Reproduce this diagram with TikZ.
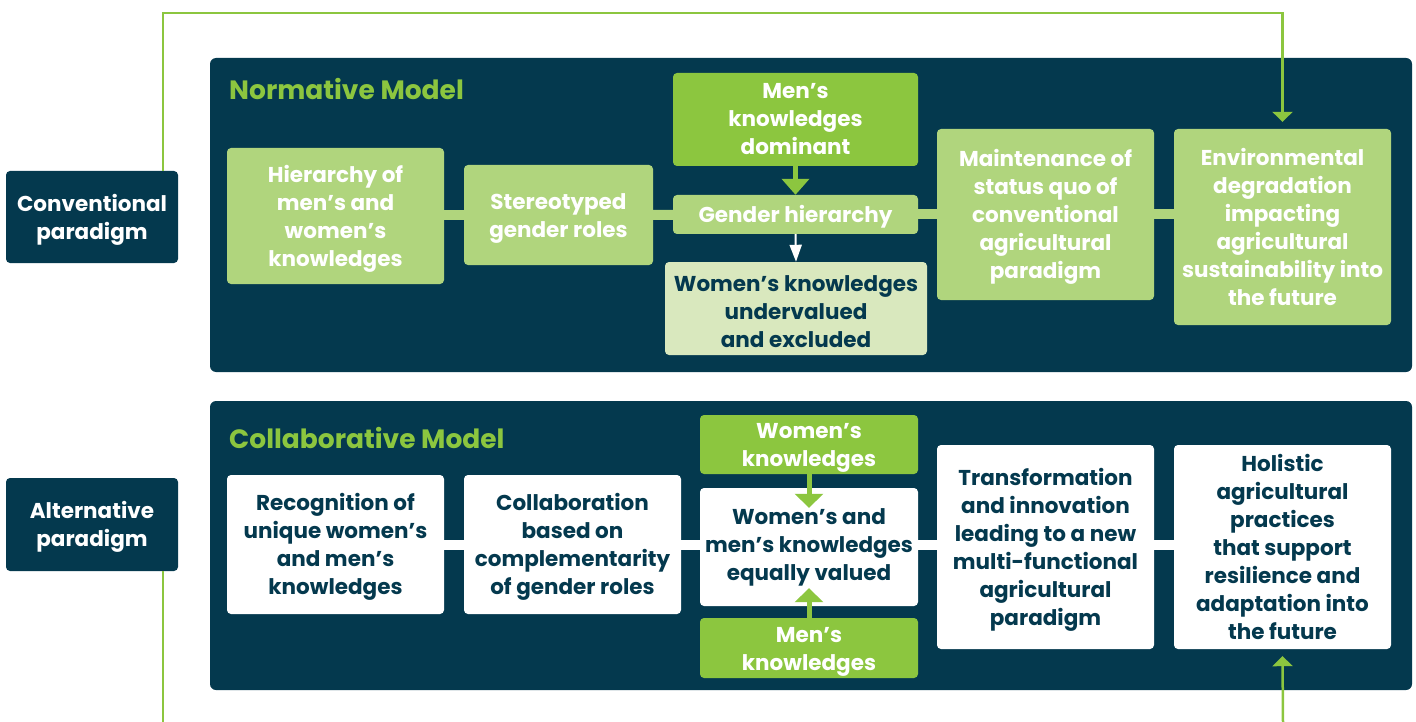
\documentclass[tikz,border=0pt]{standalone}
\usepackage{fontspec}
\setmainfont{Poppins}
\usetikzlibrary{arrows.meta}
\definecolor{navy}{HTML}{04394E}
\definecolor{leaf}{HTML}{8CC63F}
\definecolor{sage}{HTML}{B0D57D}
\definecolor{pale}{HTML}{D9E8BE}
\pgfdeclarelayer{panels}
\pgfdeclarelayer{links}
\pgfsetlayers{panels,links,main}
% a little extra room above the first line of some box texts
\newcommand\boxlead{\rule{0pt}{22pt}}
\begin{document}
\begin{tikzpicture}[x=1pt,y=-1pt,
  box/.style={rounded corners=4pt, inner sep=0pt, align=center,
    font=\bfseries\fontsize{21.5}{28}\selectfont},
  greenbox/.style={box, fill=sage, text=white},
  darkgreen/.style={box, fill=leaf, text=white},
  whitebox/.style={box, fill=white, text=navy},
  palebox/.style={box, fill=pale, text=navy},
  labelbox/.style={box, fill=navy, text=white},
  panel/.style={rounded corners=6pt, fill=navy, inner sep=0pt},
  title/.style={anchor=base west, inner sep=0pt, text=leaf,
    font=\bfseries\fontsize{26.5}{32}\selectfont},
  bar/.style={line width=10pt, draw=#1},
  thickarrow/.style={draw=leaf, line width=5pt,
    -{Triangle[width=28pt,length=14pt]}},
  thinarrow/.style={draw=white, line width=2pt,
    -{Triangle[width=12pt,length=17pt]}},
  loopline/.style={draw=leaf, line width=2.5pt},
  looparrow/.style={loopline, -{Triangle[width=20pt,length=10pt]}}]
\useasboundingbox (0,0) rectangle (1416,722);

% paradigm labels
\node[labelbox, minimum width=172pt, minimum height=92pt] (conv) at (92,217)
  {\boxlead Conventional\\paradigm};
\node[labelbox, minimum width=172pt, minimum height=93pt] (alt) at (92,524.5)
  {\boxlead Alternative\\paradigm};

% panels
\begin{pgfonlayer}{panels}
\node[panel, minimum width=1202pt, minimum height=314pt] (toppanel) at (811,215) {};
\node[panel, minimum width=1202pt, minimum height=289pt] (botpanel) at (811,545.5) {};
\end{pgfonlayer}
\node[title] (ttop) at (229,100) {Normative Model};
\node[title] (tbot) at (229,448) {Collaborative Model};

% normative model
\node[greenbox, minimum width=217pt, minimum height=136pt] (hier) at (335.5,216)
  {\boxlead Hierarchy of\\men’s and\\women’s\\knowledges};
\node[greenbox, minimum width=189pt, minimum height=100pt] (stereo) at (558.5,215)
  {\boxlead Stereotyped\\gender roles};
\node[darkgreen, minimum width=245pt, minimum height=93pt] (mdom) at (795.5,119.5)
  {Men’s\\knowledges\\dominant};
\node[greenbox, minimum width=245pt, minimum height=39pt] (ghier) at (795.5,214.5)
  {\boxlead Gender hierarchy};
\node[palebox, minimum width=262pt, minimum height=93pt] (wundr) at (796,308.5)
  {\boxlead Women’s knowledges\\undervalued\\and excluded};
\node[greenbox, minimum width=217pt, minimum height=171pt] (maint) at (1045.5,214.5)
  {\boxlead Maintenance of\\status quo of\\conventional\\agricultural\\paradigm};
\node[greenbox, minimum width=217pt, minimum height=196pt] (env) at (1282.5,227)
  {Environmental\\degradation\\impacting\\agricultural\\sustainability into\\the future};

% collaborative model
\node[whitebox, minimum width=217pt, minimum height=139pt] (recog) at (335.5,544.5)
  {\boxlead Recognition of\\unique women’s\\and men’s\\knowledges};
\node[whitebox, minimum width=217pt, minimum height=139pt] (collab) at (572.5,544.5)
  {\boxlead Collaboration\\based on\\complementarity\\of gender roles};
\node[darkgreen, minimum width=218pt, minimum height=59pt] (wk) at (809,444.5)
  {\boxlead Women’s\\knowledges};
\node[whitebox, minimum width=218pt, minimum height=118pt] (equal) at (809,547)
  {Women’s and\\men’s knowledges\\equally valued};
\node[darkgreen, minimum width=218pt, minimum height=60pt] (mk) at (809,648)
  {\boxlead Men’s\\knowledges};
\node[whitebox, minimum width=217pt, minimum height=204pt] (transf) at (1045.5,547)
  {\boxlead Transformation\\and innovation\\leading to a new\\multi-functional\\agricultural\\paradigm};
\node[whitebox, minimum width=217pt, minimum height=204pt] (holis) at (1282.5,547)
  {Holistic\\agricultural\\practices\\that support\\resilience and\\adaptation into\\the future};

% linking bars behind the boxes
\begin{pgfonlayer}{links}
\draw[bar=sage] (hier.east |- stereo.center) -- (stereo.center);
\draw[bar=sage] (stereo.center) -- (ghier.center);
\draw[bar=sage] (ghier.center) -- (maint.center);
\draw[bar=sage] (maint.center) -- (env.center |- maint.center);
\draw[bar=white] (recog.center) -- (collab.center);
\draw[bar=white] (collab.center) -- (equal.center |- collab.center);
\draw[bar=white] (equal.center |- collab.center) -- (transf.center |- collab.center);
\draw[bar=white] (transf.center |- collab.center) -- (holis.center |- collab.center);
\end{pgfonlayer}

% arrows between boxes
\draw[thickarrow, -{Triangle[width=27pt,length=16pt]}] (mdom.south) -- (ghier.north);
\draw[thinarrow] (ghier.south) -- (wundr.north);
\draw[thickarrow] (wk.south) -- ([yshift=-20pt]equal.north);
\draw[thickarrow] (mk.north) -- ([yshift=18pt]equal.south);

% paradigm feedback lines
\coordinate (ltop) at (163,13);
\coordinate (lbotl) at (163,723);
\coordinate (lbotr) at (1283,723);
\draw[looparrow] (conv.north -| ltop) -- (ltop) -| ([yshift=7pt]env.north);
\draw[loopline] (alt.south -| lbotl) -- (lbotl);
\draw[looparrow] (lbotr) -- ([yshift=-7pt]holis.south);
\end{tikzpicture}
\end{document}
